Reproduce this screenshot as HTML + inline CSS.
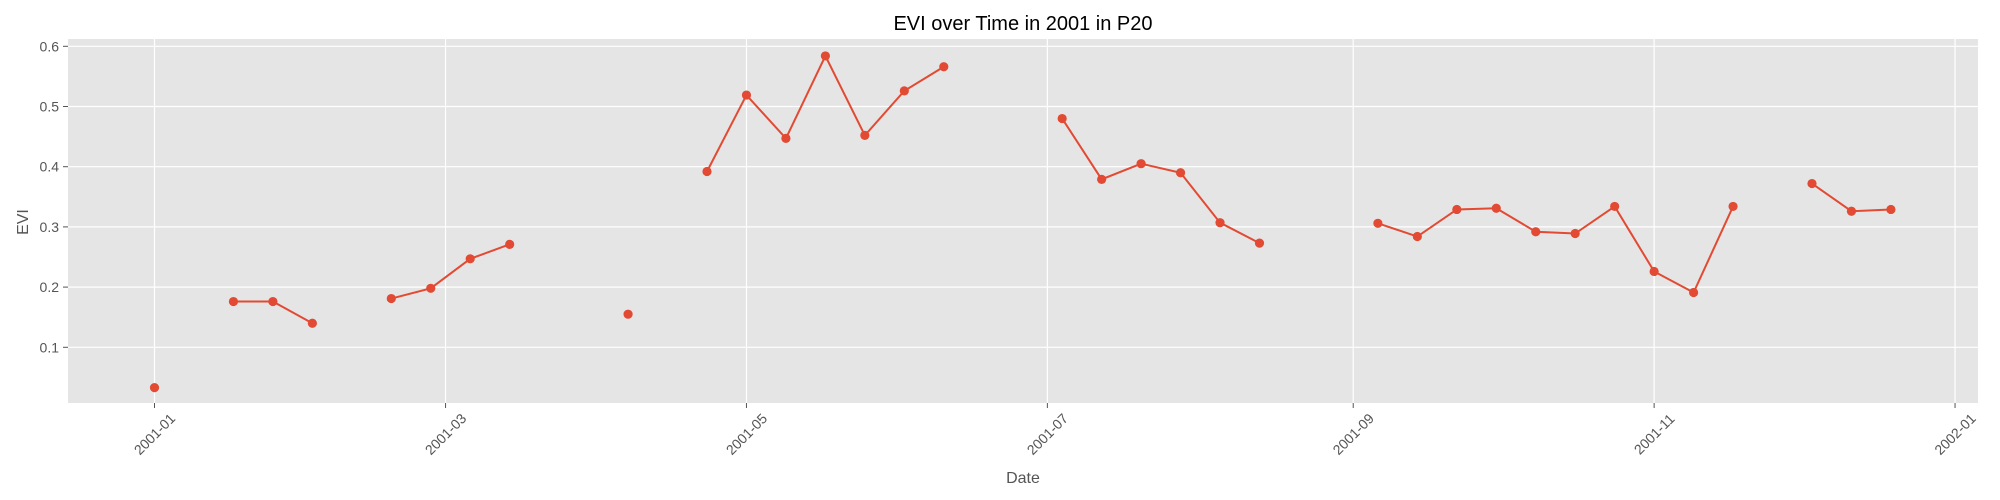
<!DOCTYPE html>
<html><head><meta charset="utf-8"><style>
html,body{margin:0;padding:0;background:#fff;}
svg{display:block;font-family:"Liberation Sans","DejaVu Sans",sans-serif;}
</style></head><body>
<svg id="chart" width="2000" height="500" viewBox="0 0 2000 500">
<rect x="68" y="39" width="1910" height="364" fill="#E5E5E5"/>
<g id="grid"></g>
<g id="axes"></g>
<g id="series"></g>
<text x="1023" y="30" text-anchor="middle" font-size="20" fill="#000">EVI over Time in 2001 in P20</text>
<text x="1023" y="483" text-anchor="middle" font-size="16" fill="#555">Date</text>
<text x="28" y="222" text-anchor="middle" font-size="16" fill="#555" transform="rotate(-90 28 222)">EVI</text>
</svg>
<script>
const days = [0,16,24,32,48,56,64,72,96,112,120,128,136,144,152,160,184,192,200,208,216,224,248,256,264,272,280,288,296,304,312,320,336,344,352];
const eviValues = [0.033,0.176,0.176,0.140,0.181,0.198,0.247,0.271,0.155,0.392,0.519,0.447,0.584,0.452,0.526,0.566,0.480,0.379,0.405,0.390,0.307,0.273,0.306,0.284,0.329,0.331,0.292,0.289,0.334,0.226,0.191,0.334,0.372,0.326,0.329];
// breaks: a new segment starts at these days (missing composite before)
const segmentStarts = [0,16,48,96,112,184,248,336];
const yTicks = [0.1,0.2,0.3,0.4,0.5,0.6];
const xTickDays = [0,59,120,181,243,304,365];
const xTickLabels = ["2001-01","2001-03","2001-05","2001-07","2001-09","2001-11","2002-01"];

const NS="http://www.w3.org/2000/svg";
const xScale = d => 154.5 + d*4.933;
const yScale = v => 46.3 + (0.6 - v)*602;
function mk(tag, attrs, parent){const e=document.createElementNS(NS,tag);for(const k in attrs)e.setAttribute(k,attrs[k]);parent.appendChild(e);return e;}
const grid=document.getElementById('grid'), axes=document.getElementById('axes'), series=document.getElementById('series');

yTicks.forEach((t,i)=>{
  const y=yScale(t);
  const g=mk('line',{x1:68,x2:1978,y1:y,y2:y,stroke:'#fff','stroke-width':1.2},grid);
  
  
  const tk=mk('line',{x1:63,x2:68,y1:y,y2:y,stroke:'#555','stroke-width':1},axes);
  
  
  const lb=mk('text',{x:59,y:y+5,'text-anchor':'end','font-size':14,fill:'#555'},axes);
  lb.textContent=t.toFixed(1);
  
  
});
xTickDays.forEach((d,i)=>{
  const x=xScale(d);
  const g=mk('line',{x1:x,x2:x,y1:39,y2:403,stroke:'#fff','stroke-width':1.2},grid);
  
  
  const tk=mk('line',{x1:x,x2:x,y1:403,y2:408,stroke:'#555','stroke-width':1},axes);
  
  
  const cy=434;
  const lb=mk('text',{x:x,y:cy+5,'text-anchor':'middle','font-size':14,fill:'#555',transform:`rotate(-45 ${x} ${cy})`},axes);
  lb.textContent=xTickLabels[i];
  
  
});

let seg=[];
const segs=[];
days.forEach((d,i)=>{
  if(segmentStarts.includes(d) && seg.length){segs.push(seg);seg=[];}
  seg.push([xScale(d),yScale(eviValues[i])]);
});
if(seg.length)segs.push(seg);
segs.forEach(s=>{
  if(s.length<2)return;
  const p=mk('polyline',{points:s.map(q=>q.join(',')).join(' '),fill:'none',stroke:'#E24A33','stroke-width':2},series);
  
  
});
days.forEach((d,i)=>{
  const c=mk('circle',{cx:xScale(d),cy:yScale(eviValues[i]),r:4.6,fill:'#E24A33'},series);
  
  
});
</script>
</body></html>
